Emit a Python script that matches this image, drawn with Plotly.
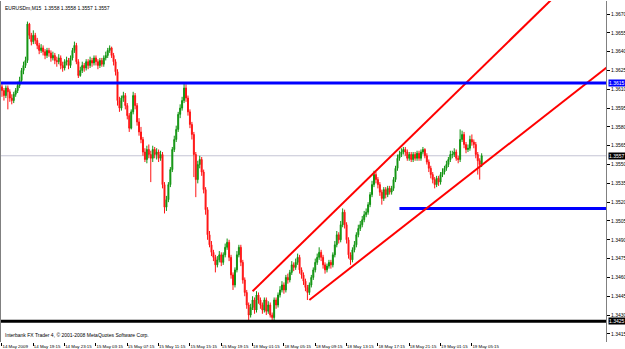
import plotly.graph_objects as go

# ---------------- data (EURUSDm, M15) ----------------
open_ = [1.3612,1.3609,1.3605,1.3611,1.3608,1.3603,1.3601,1.3606,1.3609,1.3613,
1.3617,1.3625,1.3629,1.3633,1.3662,1.3653,1.3648,1.3653,1.3649,1.3645,
1.3641,1.3643,1.3640,1.3637,1.3641,1.3639,1.3635,1.3637,1.3633,1.3632,
1.3635,1.3629,1.3627,1.3632,1.3633,1.3629,1.3635,1.3641,1.3645,1.3632,
1.3621,1.3625,1.3629,1.3627,1.3632,1.3629,1.3633,1.3631,1.3635,1.3632,
1.3629,1.3633,1.3630,1.3635,1.3637,1.3641,1.3643,1.3637,1.3632,1.3624,
1.3601,1.3595,1.3603,1.3605,1.3597,1.3589,1.3579,1.3592,1.3605,1.3597,
1.3584,1.3576,1.3570,1.3560,1.3554,1.3562,1.3558,1.3555,1.3562,1.3558,
1.3560,1.3555,1.3558,1.3534,1.3516,1.3522,1.3534,1.3546,1.3562,1.3570,
1.3578,1.3590,1.3595,1.3601,1.3611,1.3603,1.3592,1.3582,1.3574,1.3558,
1.3538,1.3550,1.3554,1.3544,1.3530,1.3514,1.3494,1.3486,1.3480,1.3476,
1.3470,1.3474,1.3478,1.3472,1.3478,1.3484,1.3488,1.3476,1.3462,1.3454,
1.3466,1.3478,1.3484,1.3472,1.3458,1.3448,1.3438,1.3430,1.3436,1.3442,
1.3434,1.3446,1.3442,1.3438,1.3434,1.3442,1.3433,1.3438,1.3430,1.3428,
1.3442,1.3438,1.3446,1.3450,1.3454,1.3450,1.3460,1.3458,1.3464,1.3470,
1.3468,1.3472,1.3476,1.3466,1.3462,1.3457,1.3452,1.3448,1.3454,1.3460,
1.3466,1.3472,1.3476,1.3480,1.3476,1.3470,1.3466,1.3469,1.3472,1.3470,
1.3478,1.3486,1.3494,1.3490,1.3502,1.3512,1.3502,1.3490,1.3478,1.3474,
1.3482,1.3486,1.3494,1.3499,1.3502,1.3506,1.3510,1.3512,1.3518,1.3526,
1.3534,1.3542,1.3538,1.3534,1.3528,1.3523,1.3530,1.3526,1.3531,1.3528,
1.3531,1.3538,1.3547,1.3555,1.3558,1.3560,1.3562,1.3560,1.3555,1.3558,
1.3554,1.3558,1.3555,1.3559,1.3555,1.3560,1.3562,1.3557,1.3552,1.3547,
1.3542,1.3538,1.3534,1.3539,1.3536,1.3542,1.3544,1.3547,1.3550,1.3554,
1.3558,1.3558,1.3560,1.3555,1.3554,1.3570,1.3574,1.3566,1.3562,1.3563,
1.3570,1.3568,1.3566,1.3558,1.3553,1.3550]

high = [1.3614,1.3611,1.3613,1.3613,1.3610,1.3606,1.3608,1.3611,1.3616,1.3620,
1.3627,1.3632,1.3636,1.3664,1.3663,1.3655,1.3657,1.3655,1.3651,1.3647,
1.3646,1.3645,1.3642,1.3643,1.3643,1.3641,1.3640,1.3639,1.3636,1.3638,
1.3637,1.3632,1.3634,1.3636,1.3635,1.3637,1.3643,1.3648,1.3647,1.3634,
1.3628,1.3632,1.3631,1.3634,1.3634,1.3636,1.3635,1.3637,1.3637,1.3634,
1.3635,1.3635,1.3637,1.3640,1.3643,1.3645,1.3644,1.3639,1.3634,1.3626,
1.3604,1.3605,1.3608,1.3607,1.3599,1.3591,1.3594,1.3608,1.3607,1.3599,
1.3587,1.3580,1.3572,1.3563,1.3565,1.3566,1.3561,1.3565,1.3564,1.3563,
1.3562,1.3561,1.3560,1.3536,1.3525,1.3536,1.3548,1.3564,1.3573,1.3581,
1.3592,1.3598,1.3604,1.3615,1.3614,1.3605,1.3594,1.3584,1.3576,1.3560,
1.3553,1.3557,1.3556,1.3546,1.3532,1.3516,1.3497,1.3489,1.3482,1.3478,
1.3477,1.3481,1.3480,1.3480,1.3487,1.3491,1.3490,1.3478,1.3464,1.3468,
1.3481,1.3486,1.3486,1.3474,1.3460,1.3450,1.3440,1.3439,1.3445,1.3444,
1.3449,1.3448,1.3444,1.3440,1.3444,1.3444,1.3441,1.3440,1.3432,1.3444,
1.3444,1.3448,1.3453,1.3457,1.3456,1.3462,1.3463,1.3466,1.3473,1.3472,
1.3475,1.3479,1.3478,1.3468,1.3464,1.3459,1.3454,1.3456,1.3462,1.3468,
1.3475,1.3479,1.3484,1.3482,1.3478,1.3472,1.3471,1.3474,1.3474,1.3480,
1.3489,1.3497,1.3496,1.3505,1.3515,1.3514,1.3504,1.3492,1.3480,1.3484,
1.3489,1.3496,1.3502,1.3505,1.3509,1.3513,1.3515,1.3520,1.3528,1.3537,
1.3545,1.3544,1.3540,1.3536,1.3530,1.3532,1.3532,1.3533,1.3533,1.3533,
1.3540,1.3549,1.3558,1.3561,1.3563,1.3564,1.3564,1.3562,1.3560,1.3560,
1.3560,1.3560,1.3561,1.3561,1.3562,1.3564,1.3563,1.3559,1.3554,1.3549,
1.3544,1.3540,1.3541,1.3541,1.3544,1.3547,1.3549,1.3553,1.3556,1.3561,
1.3561,1.3563,1.3562,1.3557,1.3578,1.3577,1.3576,1.3568,1.3566,1.3573,
1.3574,1.3570,1.3568,1.3560,1.3555,1.3559]

low = [1.3604,1.3601,1.3603,1.3594,1.3600,1.3598,1.3599,1.3604,1.3607,1.3611,
1.3615,1.3622,1.3627,1.3631,1.3650,1.3645,1.3646,1.3646,1.3642,1.3638,
1.3639,1.3637,1.3634,1.3635,1.3636,1.3632,1.3633,1.3630,1.3628,1.3630,
1.3626,1.3624,1.3625,1.3629,1.3626,1.3627,1.3633,1.3639,1.3630,1.3619,
1.3620,1.3623,1.3624,1.3625,1.3626,1.3627,1.3628,1.3629,1.3629,1.3626,
1.3627,1.3628,1.3628,1.3633,1.3635,1.3639,1.3635,1.3629,1.3621,1.3597,
1.3592,1.3593,1.3600,1.3594,1.3586,1.3576,1.3578,1.3590,1.3594,1.3581,
1.3573,1.3567,1.3557,1.3552,1.3551,1.3555,1.3536,1.3552,1.3555,1.3554,
1.3552,1.3553,1.3531,1.3511,1.3513,1.3520,1.3532,1.3544,1.3560,1.3568,
1.3576,1.3587,1.3593,1.3599,1.3600,1.3589,1.3579,1.3570,1.3540,1.3524,
1.3535,1.3547,1.3541,1.3527,1.3510,1.3490,1.3484,1.3477,1.3473,1.3464,
1.3468,1.3472,1.3469,1.3470,1.3476,1.3482,1.3473,1.3459,1.3450,1.3452,
1.3464,1.3476,1.3469,1.3455,1.3445,1.3435,1.3426,1.3428,1.3434,1.3431,
1.3432,1.3439,1.3435,1.3431,1.3432,1.3430,1.3431,1.3428,1.3425,1.3426,
1.3435,1.3436,1.3444,1.3448,1.3447,1.3448,1.3455,1.3456,1.3462,1.3465,
1.3466,1.3470,1.3463,1.3459,1.3454,1.3449,1.3442,1.3446,1.3452,1.3458,
1.3464,1.3470,1.3474,1.3473,1.3467,1.3463,1.3464,1.3467,1.3467,1.3468,
1.3476,1.3484,1.3487,1.3488,1.3500,1.3499,1.3487,1.3475,1.3470,1.3472,
1.3480,1.3484,1.3492,1.3497,1.3500,1.3504,1.3508,1.3510,1.3516,1.3524,
1.3532,1.3535,1.3531,1.3525,1.3518,1.3521,1.3523,1.3524,1.3526,1.3526,
1.3529,1.3536,1.3545,1.3553,1.3556,1.3558,1.3557,1.3553,1.3553,1.3552,
1.3552,1.3553,1.3553,1.3553,1.3553,1.3558,1.3555,1.3550,1.3544,1.3539,
1.3535,1.3531,1.3532,1.3533,1.3534,1.3540,1.3542,1.3545,1.3548,1.3552,
1.3555,1.3556,1.3553,1.3551,1.3552,1.3568,1.3563,1.3559,1.3560,1.3561,
1.3565,1.3563,1.3555,1.3542,1.3538,1.3548]

close = [1.3609,1.3605,1.3611,1.3608,1.3603,1.3601,1.3606,1.3609,1.3613,1.3617,
1.3625,1.3629,1.3633,1.3662,1.3653,1.3648,1.3653,1.3649,1.3645,1.3641,
1.3643,1.3640,1.3637,1.3641,1.3639,1.3635,1.3637,1.3633,1.3632,1.3635,
1.3629,1.3627,1.3632,1.3633,1.3629,1.3635,1.3641,1.3645,1.3632,1.3621,
1.3625,1.3629,1.3627,1.3632,1.3629,1.3633,1.3631,1.3635,1.3632,1.3629,
1.3633,1.3630,1.3635,1.3637,1.3641,1.3643,1.3637,1.3632,1.3624,1.3601,
1.3595,1.3603,1.3605,1.3597,1.3589,1.3579,1.3592,1.3605,1.3597,1.3584,
1.3576,1.3570,1.3560,1.3554,1.3562,1.3558,1.3555,1.3562,1.3558,1.3560,
1.3555,1.3558,1.3534,1.3516,1.3522,1.3534,1.3546,1.3562,1.3570,1.3578,
1.3590,1.3595,1.3601,1.3611,1.3603,1.3592,1.3582,1.3574,1.3558,1.3538,
1.3550,1.3554,1.3544,1.3530,1.3514,1.3494,1.3486,1.3480,1.3476,1.3470,
1.3474,1.3478,1.3472,1.3478,1.3484,1.3488,1.3476,1.3462,1.3454,1.3466,
1.3478,1.3484,1.3472,1.3458,1.3448,1.3438,1.3430,1.3436,1.3442,1.3434,
1.3446,1.3442,1.3438,1.3434,1.3442,1.3433,1.3438,1.3430,1.3428,1.3442,
1.3438,1.3446,1.3450,1.3454,1.3450,1.3460,1.3458,1.3464,1.3470,1.3468,
1.3472,1.3476,1.3466,1.3462,1.3457,1.3452,1.3448,1.3454,1.3460,1.3466,
1.3472,1.3476,1.3480,1.3476,1.3470,1.3466,1.3469,1.3472,1.3470,1.3478,
1.3486,1.3494,1.3490,1.3502,1.3512,1.3502,1.3490,1.3478,1.3474,1.3482,
1.3486,1.3494,1.3499,1.3502,1.3506,1.3510,1.3512,1.3518,1.3526,1.3534,
1.3542,1.3538,1.3534,1.3528,1.3523,1.3530,1.3526,1.3531,1.3528,1.3531,
1.3538,1.3547,1.3555,1.3558,1.3560,1.3562,1.3560,1.3555,1.3558,1.3554,
1.3558,1.3555,1.3559,1.3555,1.3560,1.3562,1.3557,1.3552,1.3547,1.3542,
1.3538,1.3534,1.3539,1.3536,1.3542,1.3544,1.3547,1.3550,1.3554,1.3558,
1.3558,1.3560,1.3555,1.3554,1.3570,1.3574,1.3566,1.3562,1.3563,1.3570,
1.3568,1.3566,1.3558,1.3553,1.3550,1.3557]

bars = list(range(len(close)))

time_tick_bars = [0, 16, 32, 48, 64, 80, 96, 112, 128, 144, 160, 176, 192, 208, 224, 240]
time_tick_labels = ["14 May 2009", "14 May 19:15", "14 May 23:15", "15 May 03:15",
                    "15 May 07:15", "15 May 11:15", "15 May 15:15", "15 May 19:15",
                    "18 May 01:15", "18 May 05:15", "18 May 09:15", "18 May 13:15",
                    "18 May 17:15", "18 May 21:15", "19 May 01:15", "19 May 05:15"]

price_ticks = [1.3415, 1.3430, 1.3445, 1.3460, 1.3475, 1.3490, 1.3505, 1.3520, 1.3535,
               1.3550, 1.3565, 1.3580, 1.3595, 1.3610, 1.3625, 1.3640, 1.3655, 1.3670]

# drawn objects (anchor bar, price)
resistance_level = 1.3615
support_level = 1.3425
bid_level = 1.3557
lower_blue_bars = [203, 330]
lower_blue_prices = [1.3515, 1.3515]
upper_channel_bars = [128, 300]
upper_channel_prices = [1.3449, 1.3711]
lower_channel_bars = [157, 320]
lower_channel_prices = [1.3442, 1.3641]

header_text = "EURUSDm,M15  1.3558 1.3558 1.3557 1.3557"
footer_text = "Interbank FX Trader 4, © 2001-2008 MetaQuotes Software Corp."

FONT = "Liberation Sans, Arial, sans-serif"
GREEN = "#119411"
RED = "#ff1414"

fig = go.Figure()

fig.add_trace(go.Candlestick(
    x=bars, open=open_, high=high, low=low, close=close,
    increasing=dict(line=dict(color=GREEN, width=1), fillcolor=GREEN),
    decreasing=dict(line=dict(color=RED, width=1), fillcolor=RED),
    whiskerwidth=0, showlegend=False, hoverinfo="skip"))

# horizontal levels
fig.add_hline(y=bid_level, line=dict(color="#c4c4d4", width=1), layer="below")
fig.add_hline(y=resistance_level, line=dict(color="#0000ff", width=3))
fig.add_hline(y=support_level, line=dict(color="#000000", width=3))

fig.add_trace(go.Scatter(x=lower_blue_bars, y=lower_blue_prices, mode="lines",
                         line=dict(color="#0000ff", width=3), showlegend=False, hoverinfo="skip"))
fig.add_trace(go.Scatter(x=upper_channel_bars, y=upper_channel_prices, mode="lines",
                         line=dict(color="#ff0000", width=2), showlegend=False, hoverinfo="skip"))
fig.add_trace(go.Scatter(x=lower_channel_bars, y=lower_channel_prices, mode="lines",
                         line=dict(color="#ff0000", width=2), showlegend=False, hoverinfo="skip"))

# price boxes on the right scale
for lvl, bg in [(resistance_level, "#0000ff"), (bid_level, "#000000"), (support_level, "#000000")]:
    fig.add_annotation(x=1, xref="paper", y=lvl, yref="y", text=f"{lvl:.4f}",
                       showarrow=False, xanchor="left", yanchor="middle", xshift=2,
                       bgcolor=bg, borderpad=0, font=dict(family=FONT, size=5, color="#ffffff"))

fig.add_annotation(x=0, xref="paper", y=1, yref="paper", text=header_text, showarrow=False,
                   xanchor="left", yanchor="top", xshift=2, yshift=-2,
                   font=dict(family=FONT, size=5, color="#000000"))
fig.add_annotation(x=0, xref="paper", y=0, yref="paper", text=footer_text, showarrow=False,
                   xanchor="left", yanchor="bottom", xshift=2, yshift=2,
                   font=dict(family=FONT, size=5, color="#000000"))

fig.update_layout(
    width=625, height=349,
    margin=dict(l=1, r=19, t=1, b=7, autoexpand=False),
    paper_bgcolor="#ffffff", plot_bgcolor="#ffffff",
    font=dict(family=FONT, size=5, color="#000000"),
    showlegend=False,
    xaxis=dict(range=[-0.5, 308.5], rangeslider=dict(visible=False),
               tickmode="array", tickvals=time_tick_bars, ticktext=time_tick_labels,
               ticks="outside", ticklen=3, tickcolor="#000000", tickangle=0,
               ticklabelposition="outside right", automargin=False,
               showgrid=False, zeroline=False, showline=False,
               tickfont=dict(family=FONT, size=4.4, color="#000000")),
    yaxis=dict(range=[1.34085, 1.36804], side="right", automargin=False,
               tickmode="array", tickvals=price_ticks, ticktext=[f"{v:.4f}" for v in price_ticks],
               ticks="outside", ticklen=3, tickcolor="#000000",
               showgrid=False, zeroline=False, showline=True, mirror=True,
               linecolor="#808080", linewidth=1,
               tickfont=dict(family=FONT, size=5, color="#000000")),
)

fig.write_html("out.html")
